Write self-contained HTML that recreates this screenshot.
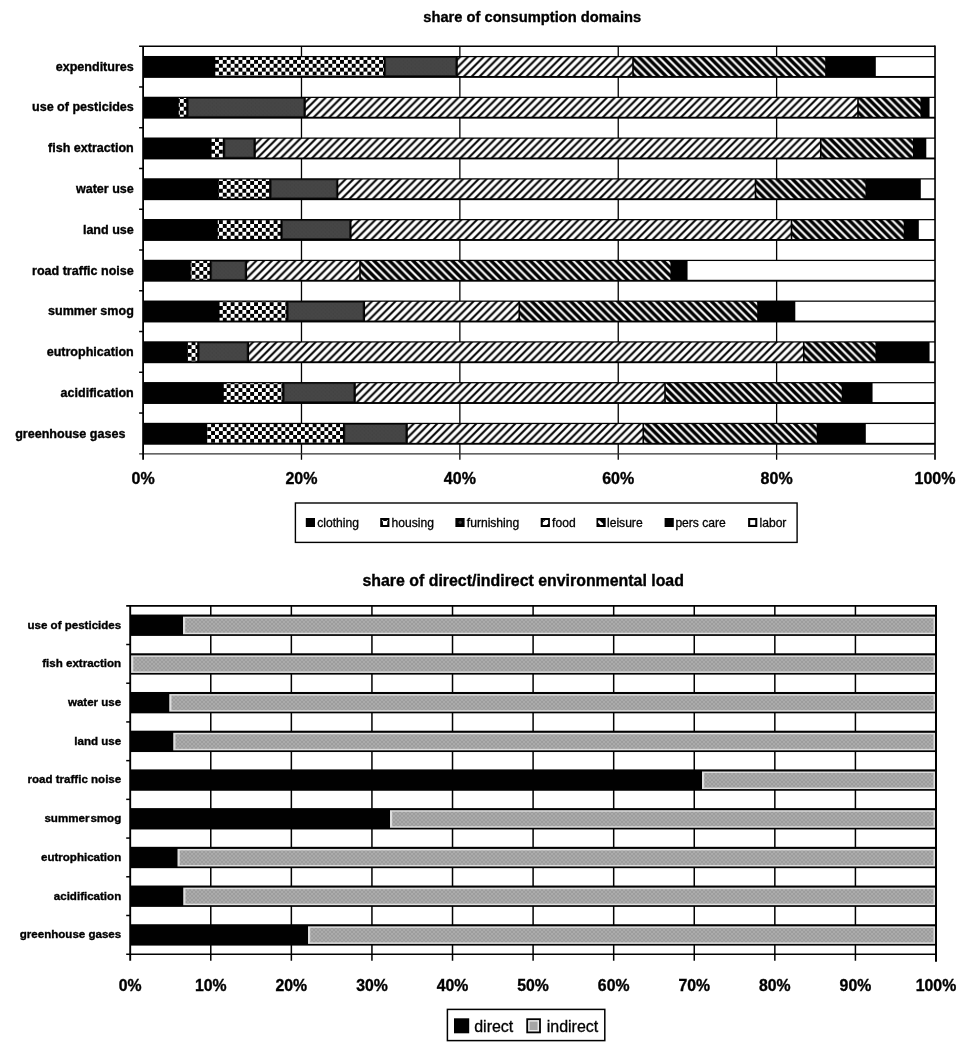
<!DOCTYPE html>
<html lang="en"><head><meta charset="utf-8"><title>share of consumption domains</title>
<style>html,body{margin:0;padding:0;background:#fff}body{width:960px;height:1060px;overflow:hidden}svg{display:block;will-change:transform;opacity:.999}text{font-family:'Liberation Sans',Arial,Helvetica,sans-serif;fill:#000}.b{font-weight:bold;stroke:#000;stroke-width:.35px}.t{stroke:#000;stroke-width:.3px}</style></head><body>
<svg width="960" height="1060" viewBox="0 0 960 1060">
<defs>
<pattern id="chk" patternUnits="userSpaceOnUse" width="7.814" height="7.814" x="215.0" y="56.0"><rect width="7.814" height="7.814" fill="#fff"/><rect x="3.907" y="0" width="3.907" height="3.907" fill="#000"/><rect x="0" y="3.907" width="3.907" height="3.907" fill="#000"/></pattern>
<pattern id="food" patternUnits="userSpaceOnUse" width="7.814" height="7.814" x="1.3" y="0"><rect width="7.814" height="7.814" fill="#fff"/><path d="M-7.814,7.814 L7.814,-7.814 M0,7.814 L7.814,0 M0,15.628 L15.628,0" stroke="#000" stroke-width="2.05" fill="none"/></pattern>
<pattern id="leis" patternUnits="userSpaceOnUse" width="7.814" height="7.814" x="3.8" y="0"><rect width="7.814" height="7.814" fill="#fff"/><path d="M-7.814,0 L7.814,15.628 M0,0 L7.814,7.814 M0,-7.814 L15.628,7.814" stroke="#000" stroke-width="3.4" fill="none"/></pattern>
<pattern id="gry" patternUnits="userSpaceOnUse" width="4" height="4"><rect width="4" height="4" fill="#ababab"/><path d="M0,0 L4,4 M4,0 L0,4" stroke="#9c9c9c" stroke-width="0.9" fill="none"/></pattern>
<pattern id="furn" patternUnits="userSpaceOnUse" width="3.9" height="3.9" x="0.5" y="1"><rect width="3.9" height="3.9" fill="#464646"/><path d="M0.6,1 L2,1 M2.4,3 L3.6,3" stroke="#3a3a3a" stroke-width="0.7" fill="none"/></pattern>
</defs>
<rect width="960" height="1060" fill="#fff"/>
<text class="b" x="532.2" y="21.9" font-size="14.7" text-anchor="middle">share of consumption domains</text>
<line x1="301.48" y1="46.2" x2="301.48" y2="459.8" stroke="#000" stroke-width="1.3"/>
<line x1="459.86" y1="46.2" x2="459.86" y2="459.8" stroke="#000" stroke-width="1.3"/>
<line x1="618.24" y1="46.2" x2="618.24" y2="459.8" stroke="#000" stroke-width="1.3"/>
<line x1="776.62" y1="46.2" x2="776.62" y2="459.8" stroke="#000" stroke-width="1.3"/>
<line x1="139.1" y1="46.2" x2="935.0" y2="46.2" stroke="#000" stroke-width="1.5"/>
<line x1="935.0" y1="45.45" x2="935.0" y2="459.8" stroke="#000" stroke-width="1.7"/>
<line x1="139.1" y1="453.8" x2="935.0" y2="453.8" stroke="#333" stroke-width="1.3"/>
<line x1="143.1" y1="46.2" x2="143.1" y2="459.8" stroke="#000" stroke-width="1.8"/>
<line x1="139.1" y1="86.96" x2="143.1" y2="86.96" stroke="#000" stroke-width="1.5"/>
<line x1="139.1" y1="127.72" x2="143.1" y2="127.72" stroke="#000" stroke-width="1.5"/>
<line x1="139.1" y1="168.48" x2="143.1" y2="168.48" stroke="#000" stroke-width="1.5"/>
<line x1="139.1" y1="209.24" x2="143.1" y2="209.24" stroke="#000" stroke-width="1.5"/>
<line x1="139.1" y1="250.00" x2="143.1" y2="250.00" stroke="#000" stroke-width="1.5"/>
<line x1="139.1" y1="290.76" x2="143.1" y2="290.76" stroke="#000" stroke-width="1.5"/>
<line x1="139.1" y1="331.52" x2="143.1" y2="331.52" stroke="#000" stroke-width="1.5"/>
<line x1="139.1" y1="372.28" x2="143.1" y2="372.28" stroke="#000" stroke-width="1.5"/>
<line x1="139.1" y1="413.04" x2="143.1" y2="413.04" stroke="#000" stroke-width="1.5"/>
<rect x="143.10" y="55.98" width="791.90" height="21.90" fill="#000"/>
<rect x="215.30" y="57.23" width="168.40" height="18.75" fill="url(#chk)"/>
<rect x="385.70" y="57.63" width="70.10" height="17.95" fill="url(#furn)" stroke="#1c1c1c" stroke-width="0.8"/>
<rect x="457.80" y="57.23" width="174.40" height="18.75" fill="url(#food)"/>
<rect x="633.80" y="57.23" width="191.40" height="18.75" fill="url(#leis)"/>
<rect x="875.80" y="57.23" width="58.40" height="18.75" fill="#fff"/>
<text class="b" x="133.8" y="70.73" font-size="12.55" text-anchor="end">expenditures</text>
<rect x="143.10" y="96.74" width="791.90" height="21.90" fill="#000"/>
<rect x="178.80" y="97.99" width="7.40" height="18.75" fill="url(#chk)"/>
<rect x="188.20" y="98.39" width="115.60" height="17.95" fill="url(#furn)" stroke="#1c1c1c" stroke-width="0.8"/>
<rect x="305.80" y="97.99" width="551.40" height="18.75" fill="url(#food)"/>
<rect x="858.80" y="97.99" width="61.65" height="18.75" fill="url(#leis)"/>
<rect x="929.55" y="97.99" width="4.65" height="18.75" fill="#fff"/>
<text class="b" x="133.8" y="111.49" font-size="12.55" text-anchor="end">use of pesticides</text>
<rect x="143.10" y="137.50" width="791.90" height="21.90" fill="#000"/>
<rect x="211.55" y="138.75" width="11.40" height="18.75" fill="url(#chk)"/>
<rect x="224.95" y="139.15" width="28.85" height="17.95" fill="url(#furn)" stroke="#1c1c1c" stroke-width="0.8"/>
<rect x="255.80" y="138.75" width="564.15" height="18.75" fill="url(#food)"/>
<rect x="821.55" y="138.75" width="91.40" height="18.75" fill="url(#leis)"/>
<rect x="926.30" y="138.75" width="7.90" height="18.75" fill="#fff"/>
<text class="b" x="133.8" y="152.25" font-size="12.55" text-anchor="end">fish extraction</text>
<rect x="143.10" y="178.26" width="791.90" height="21.90" fill="#000"/>
<rect x="218.80" y="179.51" width="50.40" height="18.75" fill="url(#chk)"/>
<rect x="271.20" y="179.91" width="65.10" height="17.95" fill="url(#furn)" stroke="#1c1c1c" stroke-width="0.8"/>
<rect x="338.30" y="179.51" width="416.40" height="18.75" fill="url(#food)"/>
<rect x="756.30" y="179.51" width="109.15" height="18.75" fill="url(#leis)"/>
<rect x="920.80" y="179.51" width="13.40" height="18.75" fill="#fff"/>
<text class="b" x="133.8" y="193.01" font-size="12.55" text-anchor="end">water use</text>
<rect x="143.10" y="219.02" width="791.90" height="21.90" fill="#000"/>
<rect x="217.80" y="220.27" width="62.65" height="18.75" fill="url(#chk)"/>
<rect x="282.45" y="220.67" width="67.10" height="17.95" fill="url(#furn)" stroke="#1c1c1c" stroke-width="0.8"/>
<rect x="351.55" y="220.27" width="439.15" height="18.75" fill="url(#food)"/>
<rect x="792.30" y="220.27" width="111.40" height="18.75" fill="url(#leis)"/>
<rect x="918.80" y="220.27" width="15.40" height="18.75" fill="#fff"/>
<text class="b" x="133.8" y="233.77" font-size="12.55" text-anchor="end">land use</text>
<rect x="143.10" y="259.78" width="791.90" height="21.90" fill="#000"/>
<rect x="190.80" y="261.03" width="18.90" height="18.75" fill="url(#chk)"/>
<rect x="211.70" y="261.43" width="33.35" height="17.95" fill="url(#furn)" stroke="#1c1c1c" stroke-width="0.8"/>
<rect x="247.05" y="261.03" width="112.15" height="18.75" fill="url(#food)"/>
<rect x="360.80" y="261.03" width="309.65" height="18.75" fill="url(#leis)"/>
<rect x="687.55" y="261.03" width="246.65" height="18.75" fill="#fff"/>
<text class="b" x="133.8" y="274.53" font-size="12.55" text-anchor="end">road traffic noise</text>
<rect x="143.10" y="300.54" width="791.90" height="21.90" fill="#000"/>
<rect x="219.55" y="301.79" width="66.65" height="18.75" fill="url(#chk)"/>
<rect x="288.20" y="302.19" width="74.85" height="17.95" fill="url(#furn)" stroke="#1c1c1c" stroke-width="0.8"/>
<rect x="365.05" y="301.79" width="153.40" height="18.75" fill="url(#food)"/>
<rect x="520.05" y="301.79" width="237.15" height="18.75" fill="url(#leis)"/>
<rect x="795.30" y="301.79" width="138.90" height="18.75" fill="#fff"/>
<text class="b" x="133.8" y="315.29" font-size="12.55" text-anchor="end">summer smog</text>
<rect x="143.10" y="341.30" width="791.90" height="21.90" fill="#000"/>
<rect x="187.80" y="342.55" width="9.40" height="18.75" fill="url(#chk)"/>
<rect x="199.20" y="342.95" width="47.85" height="17.95" fill="url(#furn)" stroke="#1c1c1c" stroke-width="0.8"/>
<rect x="249.05" y="342.55" width="553.90" height="18.75" fill="url(#food)"/>
<rect x="804.55" y="342.55" width="70.90" height="18.75" fill="url(#leis)"/>
<rect x="929.55" y="342.55" width="4.65" height="18.75" fill="#fff"/>
<text class="b" x="133.8" y="356.05" font-size="12.55" text-anchor="end">eutrophication</text>
<rect x="143.10" y="382.06" width="791.90" height="21.90" fill="#000"/>
<rect x="223.80" y="383.31" width="58.40" height="18.75" fill="url(#chk)"/>
<rect x="284.20" y="383.71" width="69.60" height="17.95" fill="url(#furn)" stroke="#1c1c1c" stroke-width="0.8"/>
<rect x="355.80" y="383.31" width="308.40" height="18.75" fill="url(#food)"/>
<rect x="665.80" y="383.31" width="175.90" height="18.75" fill="url(#leis)"/>
<rect x="872.55" y="383.31" width="61.65" height="18.75" fill="#fff"/>
<text class="b" x="133.8" y="396.81" font-size="12.55" text-anchor="end">acidification</text>
<rect x="143.10" y="422.82" width="791.90" height="21.90" fill="#000"/>
<rect x="207.05" y="424.07" width="135.90" height="18.75" fill="url(#chk)"/>
<rect x="344.95" y="424.47" width="60.85" height="17.95" fill="url(#furn)" stroke="#1c1c1c" stroke-width="0.8"/>
<rect x="407.80" y="424.07" width="234.65" height="18.75" fill="url(#food)"/>
<rect x="644.05" y="424.07" width="172.65" height="18.75" fill="url(#leis)"/>
<rect x="865.80" y="424.07" width="68.40" height="18.75" fill="#fff"/>
<text class="b" x="125.4" y="437.57" font-size="12.55" text-anchor="end">greenhouse gases</text>
<text class="b" x="143.10" y="483.6" font-size="16" text-anchor="middle">0%</text>
<text class="b" x="301.48" y="483.6" font-size="16" text-anchor="middle">20%</text>
<text class="b" x="459.86" y="483.6" font-size="16" text-anchor="middle">40%</text>
<text class="b" x="618.24" y="483.6" font-size="16" text-anchor="middle">60%</text>
<text class="b" x="776.62" y="483.6" font-size="16" text-anchor="middle">80%</text>
<text class="b" x="935.00" y="483.6" font-size="16" text-anchor="middle">100%</text>
<rect x="295.4" y="503" width="501.7" height="39.4" fill="#fff" stroke="#000" stroke-width="1.4"/>
<rect x="305.8" y="518" width="9.2" height="9" fill="#000"/>
<text class="t" x="317.2" y="527.3" font-size="12.1">clothing</text>
<rect x="380.2" y="518" width="9.2" height="9" fill="#000"/>
<polygon points="382.00,520.00 382.90,520.00 383.60,520.90 386.50,520.90 387.20,520.00 388.00,520.00 387.30,521.80 387.20,524.90 383.00,524.90 382.90,521.80" fill="#fff"/>
<text class="t" x="391.6" y="527.3" font-size="12.1">housing</text>
<rect x="455.4" y="518" width="9.2" height="9" fill="#000"/>
<circle cx="460.2" cy="522.3" r="1.6" fill="#3c3c3c"/>
<text class="t" x="466.8" y="527.3" font-size="12.1">furnishing</text>
<rect x="540.7" y="518" width="9.2" height="9" fill="#000"/>
<polygon points="545.50,519.90 548.10,519.90 548.10,523.60 546.80,524.90 542.80,524.90 542.80,522.60" fill="#fff"/>
<circle cx="543.4000000000001" cy="520.5" r="0.45" fill="#ccc"/>
<text class="t" x="552.1" y="527.3" font-size="12.1">food</text>
<rect x="596.5" y="518" width="9.2" height="9" fill="#000"/>
<polygon points="598.10,520.60 599.60,520.60 603.10,523.70 603.10,525.00 600.20,525.00 598.10,522.60" fill="#fff"/>
<text class="t" x="607.0" y="527.3" font-size="12.1">leisure</text>
<rect x="664.6" y="518" width="9.2" height="9" fill="#000"/>
<text class="t" x="675.4" y="527.3" font-size="12.1">pers care</text>
<rect x="748.1" y="518" width="9.2" height="9" fill="#000"/>
<rect x="750.2" y="520.1" width="5.0" height="4.8" fill="#fff"/>
<text class="t" x="759.5" y="527.3" font-size="12.1">labor</text>
<text class="b" x="523.2" y="585.5" font-size="15.9" text-anchor="middle">share of direct/indirect environmental load</text>
<line x1="210.78" y1="605.8" x2="210.78" y2="960.7" stroke="#000" stroke-width="1.5"/>
<line x1="291.36" y1="605.8" x2="291.36" y2="960.7" stroke="#000" stroke-width="1.5"/>
<line x1="371.94" y1="605.8" x2="371.94" y2="960.7" stroke="#000" stroke-width="1.5"/>
<line x1="452.52" y1="605.8" x2="452.52" y2="960.7" stroke="#000" stroke-width="1.5"/>
<line x1="533.10" y1="605.8" x2="533.10" y2="960.7" stroke="#000" stroke-width="1.5"/>
<line x1="613.68" y1="605.8" x2="613.68" y2="960.7" stroke="#000" stroke-width="1.5"/>
<line x1="694.26" y1="605.8" x2="694.26" y2="960.7" stroke="#000" stroke-width="1.5"/>
<line x1="774.84" y1="605.8" x2="774.84" y2="960.7" stroke="#000" stroke-width="1.5"/>
<line x1="855.42" y1="605.8" x2="855.42" y2="960.7" stroke="#000" stroke-width="1.5"/>
<line x1="126.19999999999999" y1="605.8" x2="936.0" y2="605.8" stroke="#000" stroke-width="1.7"/>
<line x1="936.0" y1="605.0" x2="936.0" y2="961.7" stroke="#000" stroke-width="2"/>
<line x1="126.19999999999999" y1="954.2" x2="936.0" y2="954.2" stroke="#000" stroke-width="1.5"/>
<line x1="130.2" y1="605.8" x2="130.2" y2="960.7" stroke="#000" stroke-width="1.9"/>
<line x1="126.19999999999999" y1="644.51" x2="130.2" y2="644.51" stroke="#000" stroke-width="1.5"/>
<line x1="126.19999999999999" y1="683.22" x2="130.2" y2="683.22" stroke="#000" stroke-width="1.5"/>
<line x1="126.19999999999999" y1="721.93" x2="130.2" y2="721.93" stroke="#000" stroke-width="1.5"/>
<line x1="126.19999999999999" y1="760.64" x2="130.2" y2="760.64" stroke="#000" stroke-width="1.5"/>
<line x1="126.19999999999999" y1="799.36" x2="130.2" y2="799.36" stroke="#000" stroke-width="1.5"/>
<line x1="126.19999999999999" y1="838.07" x2="130.2" y2="838.07" stroke="#000" stroke-width="1.5"/>
<line x1="126.19999999999999" y1="876.78" x2="130.2" y2="876.78" stroke="#000" stroke-width="1.5"/>
<line x1="126.19999999999999" y1="915.49" x2="130.2" y2="915.49" stroke="#000" stroke-width="1.5"/>
<rect x="130.20" y="614.56" width="805.80" height="21.35" fill="#000"/>
<rect x="183.00" y="616.66" width="752.00" height="17.55" fill="#dedede"/>
<rect x="185.20" y="618.16" width="748.30" height="14.55" fill="url(#gry)"/>
<text class="b" x="121.2" y="628.56" font-size="11.55" text-anchor="end">use of pesticides</text>
<rect x="130.20" y="653.27" width="805.80" height="21.35" fill="#000"/>
<rect x="131.10" y="655.37" width="803.90" height="17.55" fill="#dedede"/>
<rect x="133.30" y="656.87" width="800.20" height="14.55" fill="url(#gry)"/>
<text class="b" x="121.2" y="667.27" font-size="11.55" text-anchor="end">fish extraction</text>
<rect x="130.20" y="691.98" width="805.80" height="21.35" fill="#000"/>
<rect x="169.25" y="694.08" width="765.75" height="17.55" fill="#dedede"/>
<rect x="171.45" y="695.58" width="762.05" height="14.55" fill="url(#gry)"/>
<text class="b" x="121.2" y="705.98" font-size="11.55" text-anchor="end">water use</text>
<rect x="130.20" y="730.69" width="805.80" height="21.35" fill="#000"/>
<rect x="173.25" y="732.79" width="761.75" height="17.55" fill="#dedede"/>
<rect x="175.45" y="734.29" width="758.05" height="14.55" fill="url(#gry)"/>
<text class="b" x="121.2" y="744.69" font-size="11.55" text-anchor="end">land use</text>
<rect x="130.20" y="769.40" width="805.80" height="21.35" fill="#000"/>
<rect x="702.00" y="771.50" width="233.00" height="17.55" fill="#dedede"/>
<rect x="704.20" y="773.00" width="229.30" height="14.55" fill="url(#gry)"/>
<text class="b" x="121.2" y="783.40" font-size="11.55" text-anchor="end">road traffic noise</text>
<rect x="130.20" y="808.11" width="805.80" height="21.35" fill="#000"/>
<rect x="390.00" y="810.21" width="545.00" height="17.55" fill="#dedede"/>
<rect x="392.20" y="811.71" width="541.30" height="14.55" fill="url(#gry)"/>
<text class="b" x="121.2" y="822.11" font-size="11.55" text-anchor="end" word-spacing="-2.2">summer smog</text>
<rect x="130.20" y="846.82" width="805.80" height="21.35" fill="#000"/>
<rect x="177.50" y="848.92" width="757.50" height="17.55" fill="#dedede"/>
<rect x="179.70" y="850.42" width="753.80" height="14.55" fill="url(#gry)"/>
<text class="b" x="121.2" y="860.82" font-size="11.55" text-anchor="end">eutrophication</text>
<rect x="130.20" y="885.53" width="805.80" height="21.35" fill="#000"/>
<rect x="183.25" y="887.63" width="751.75" height="17.55" fill="#dedede"/>
<rect x="185.45" y="889.13" width="748.05" height="14.55" fill="url(#gry)"/>
<text class="b" x="121.2" y="899.53" font-size="11.55" text-anchor="end">acidification</text>
<rect x="130.20" y="924.24" width="805.80" height="21.35" fill="#000"/>
<rect x="308.00" y="926.34" width="627.00" height="17.55" fill="#dedede"/>
<rect x="310.20" y="927.84" width="623.30" height="14.55" fill="url(#gry)"/>
<text class="b" x="121.2" y="938.24" font-size="11.55" text-anchor="end">greenhouse gases</text>
<text class="b" x="130.20" y="991.1" font-size="15.8" text-anchor="middle">0%</text>
<text class="b" x="210.78" y="991.1" font-size="15.8" text-anchor="middle">10%</text>
<text class="b" x="291.36" y="991.1" font-size="15.8" text-anchor="middle">20%</text>
<text class="b" x="371.94" y="991.1" font-size="15.8" text-anchor="middle">30%</text>
<text class="b" x="452.52" y="991.1" font-size="15.8" text-anchor="middle">40%</text>
<text class="b" x="533.10" y="991.1" font-size="15.8" text-anchor="middle">50%</text>
<text class="b" x="613.68" y="991.1" font-size="15.8" text-anchor="middle">60%</text>
<text class="b" x="694.26" y="991.1" font-size="15.8" text-anchor="middle">70%</text>
<text class="b" x="774.84" y="991.1" font-size="15.8" text-anchor="middle">80%</text>
<text class="b" x="855.42" y="991.1" font-size="15.8" text-anchor="middle">90%</text>
<text class="b" x="936.00" y="991.1" font-size="15.8" text-anchor="middle">100%</text>
<rect x="447.4" y="1009.4" width="157.4" height="31.2" fill="#fff" stroke="#000" stroke-width="1.5"/>
<rect x="454" y="1018.3" width="15.2" height="15" fill="#000"/>
<text class="t" x="474.2" y="1031.7" font-size="16">direct</text>
<rect x="526.3" y="1018.3" width="14.6" height="15" fill="#000"/>
<rect x="528.1" y="1020.1" width="11" height="11.4" fill="#ececec"/>
<rect x="529.6" y="1021.6" width="8" height="8.4" fill="#a6a6a6"/>
<text class="t" x="546.7" y="1031.7" font-size="16">indirect</text>
</svg></body></html>
